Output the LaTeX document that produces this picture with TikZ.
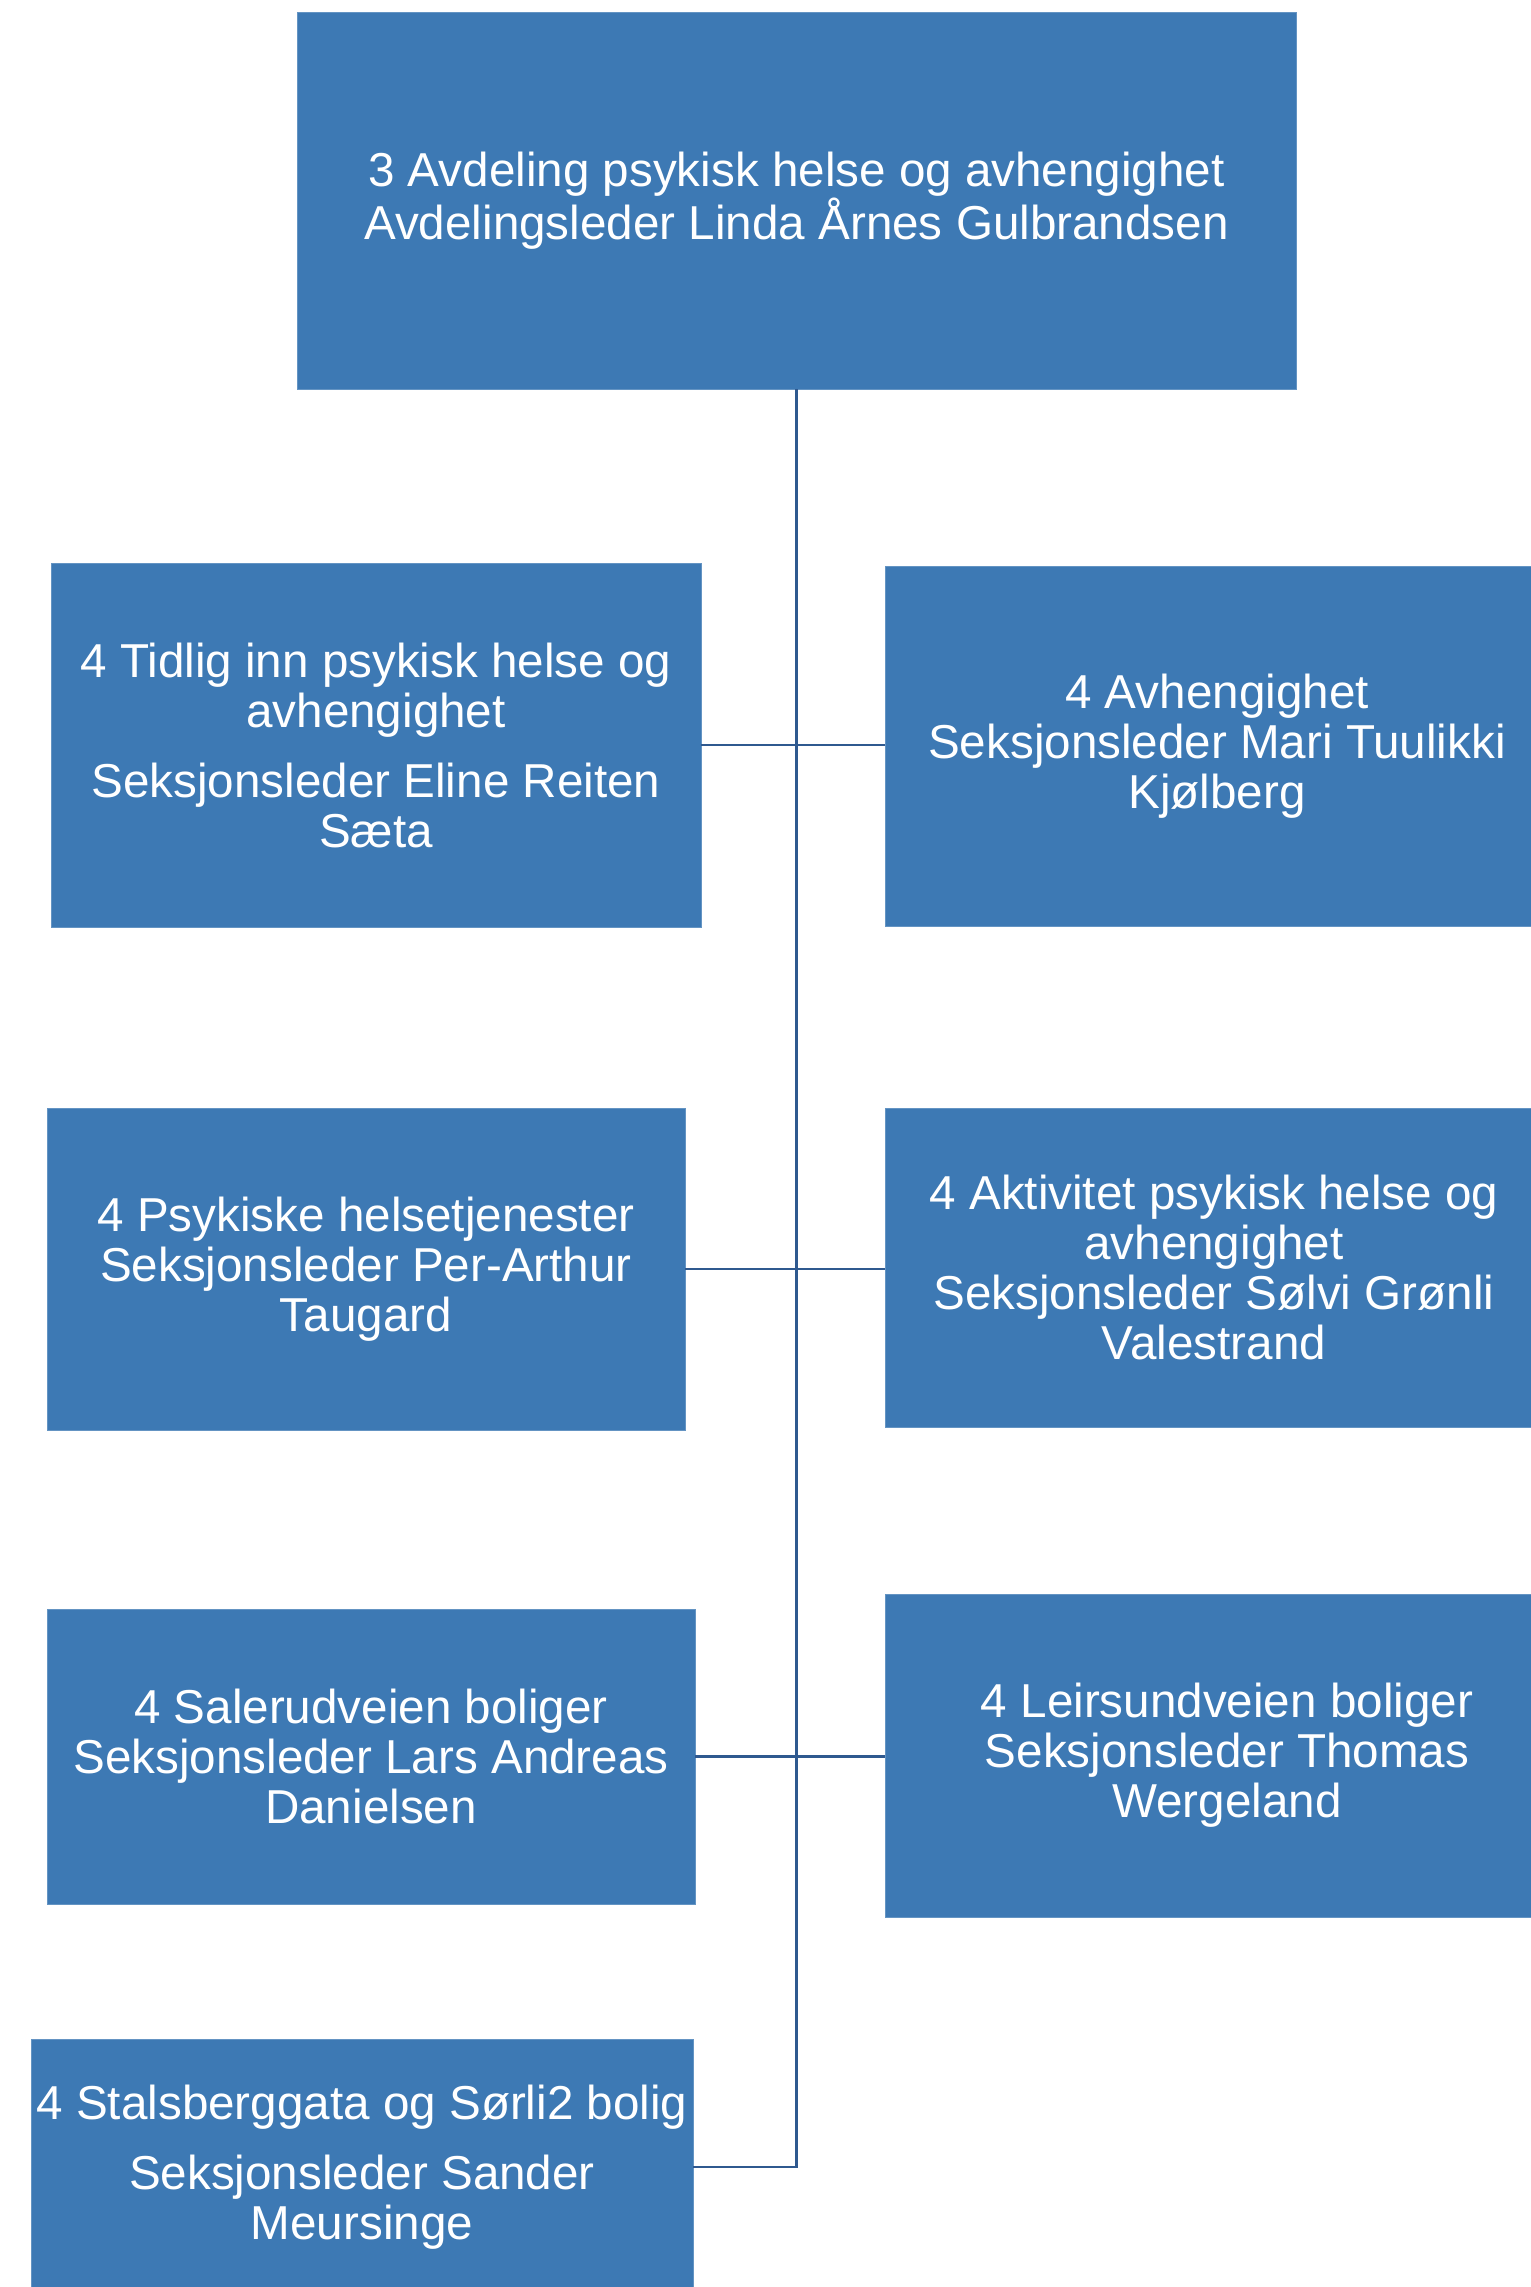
\documentclass[tikz,border=0pt]{standalone}
\usepackage{fontspec}
\setmainfont{Liberation Sans}
\usepackage{tikz}
\usetikzlibrary{positioning}
\definecolor{boxblue}{RGB}{61,121,180}
\definecolor{lineblue}{RGB}{47,89,143}
\tikzset{
        base/.style={fill=boxblue, draw=boxblue!80!white, line width=0.4pt,
                     text=white, align=center, inner sep=0pt,
                     font=\fontsize{23.8}{25}\selectfont},
        unit/.style={base, rectangle},
        myline/.style={draw=lineblue, line width=1.1pt},
 }
\begin{document}
\begin{tikzpicture}[x=0.5pt, y=-0.5pt]
    \useasboundingbox (0,0) rectangle (1531,2287);
    \node[unit, minimum width=499.5pt, minimum height=188.5pt] (avd) at (796.5,200.5)
        {3 Avdeling psykisk helse og avhengighet\\Avdelingsleder Linda Årnes Gulbrandsen};
    \node[unit, minimum width=325pt, minimum height=182pt] (tidlig) at (376,745)
        {4 Tidlig inn psykisk helse og\\avhengighet\\[10pt]Seksjonsleder Eline Reiten\\Sæta};
    \node[unit, minimum width=332pt, minimum height=180pt] (avh) at (1217,746)
        {4 Avhengighet\\Seksjonsleder Mari Tuulikki\\Kjølberg};
    \node[unit, minimum width=319pt, minimum height=161pt] (psyk) at (366,1269)
        {4 Psykiske helsetjenester\\Seksjonsleder Per-Arthur\\Taugard};
    \node[unit, minimum width=329pt, minimum height=159.5pt] (akt) at (1214,1267.5)
        {4 Aktivitet psykisk helse og\\avhengighet\\Seksjonsleder Sølvi Grønli\\Valestrand};
    \node[unit, minimum width=324pt, minimum height=147.5pt] (saler) at (371,1756.5)
        {4 Salerudveien boliger\\Seksjonsleder Lars Andreas\\Danielsen};
    \node[unit, minimum width=342pt, minimum height=161.5pt] (leir) at (1227,1755.5)
        {4 Leirsundveien boliger\\Seksjonsleder Thomas\\Wergeland};
    \node[unit, minimum width=331pt, minimum height=128pt] (stals) at (362,2167)
        {4 Stalsberggata og Sørli2 bolig\\[10pt]Seksjonsleder Sander\\Meursinge};

    % trunk and branches
    \draw[myline] (avd.south) -- (avd.south |- stals.east) -- (stals.east);
    \draw[myline] (tidlig.east) -- (tidlig.east -| avh.west);
    \draw[myline] (psyk.east) -- (psyk.east -| akt.west);
    \draw[myline] (saler.east) -- (saler.east -| leir.west);
\end{tikzpicture}
\end{document}
